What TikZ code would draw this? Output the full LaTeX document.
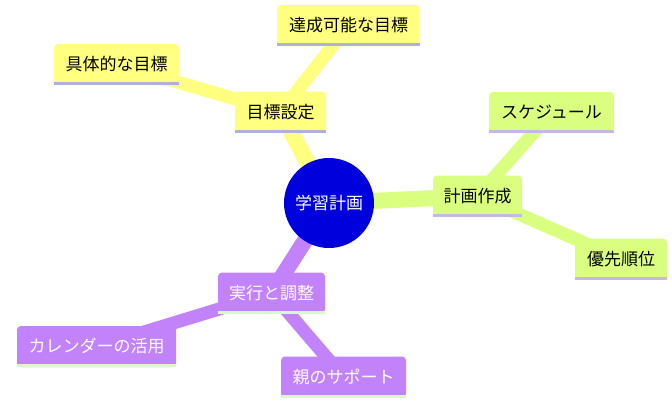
\documentclass[tikz,border=0pt]{standalone}
\usepackage{fontspec}
\setmainfont{Noto Sans CJK JP}
\pgfdeclarelayer{bg}
\pgfsetlayers{bg,main}
\definecolor{secY}{HTML}{FFFF80}
\definecolor{secG}{HTML}{DAFF80}
\definecolor{secP}{HTML}{C282FA}
\definecolor{lineY}{HTML}{B0B0DC}
\definecolor{lineG}{HTML}{C8B6E6}
\definecolor{lineP}{HTML}{DDF7CC}
\definecolor{rootblue}{HTML}{0000DD}
\begin{document}
\begin{tikzpicture}[x=1pt,y=-1pt,
  mmbox/.style={rectangle, rounded corners=4pt, minimum height=41pt, inner sep=0pt,
    font=\fontsize{17}{20}\selectfont},
  ybox/.style={mmbox, fill=secY, text=black},
  gbox/.style={mmbox, fill=secG, text=black},
  pbox/.style={mmbox, fill=secP, text=white},
  rootnode/.style={circle, fill=rootblue, text=white, minimum size=90pt, inner sep=0pt,
    font=\fontsize{17}{20}\selectfont},
  mainedge/.style={line width=16pt},
  leafedge/.style={line width=13pt}]
\useasboundingbox (0,0) rectangle (672,405);

\node[rootnode] (C) at (329,203) {学習計画};

\node[ybox, minimum width=91pt] (g) at (280.5,112) {目標設定};
\node[ybox, minimum width=125pt] (g1) at (116.5,64.5) {具体的な目標};
\node[ybox, minimum width=143pt] (g2) at (348.5,25.5) {達成可能な目標};

\node[gbox, minimum width=89pt] (p) at (477.5,196) {計画作成};
\node[gbox, minimum width=125pt] (p1) at (551.5,112.5) {スケジュール};
\node[gbox, minimum width=92pt] (p2) at (621,259) {優先順位};

\node[pbox, minimum width=107pt] (e) at (271.5,293) {実行と調整};
\node[pbox, minimum width=159pt] (e1) at (96.5,346.5) {カレンダーの活用};
\node[pbox, minimum width=125pt] (e2) at (343.5,377) {親のサポート};

\foreach \n/\c in {g/lineY,g1/lineY,g2/lineY,p/lineG,p1/lineG,p2/lineG,e/lineP,e1/lineP,e2/lineP}
  \fill[\c] (\n.south west) rectangle ([yshift=3pt]\n.south east);

\begin{pgfonlayer}{bg}
\draw[mainedge, secY] (C.center) -- (g.center);
\draw[leafedge, secY] (g.center) -- (g1.center);
\draw[leafedge, secY] (g.center) -- (g2.center);
\draw[mainedge, secG] (C.center) -- (p.center);
\draw[leafedge, secG] (p.center) -- (p1.center);
\draw[leafedge, secG] (p.center) -- (p2.center);
\draw[mainedge, secP] (C.center) -- (e.center);
\draw[leafedge, secP] (e.center) -- (e1.center);
\draw[leafedge, secP] (e.center) -- (e2.center);
\end{pgfonlayer}
\end{tikzpicture}
\end{document}
